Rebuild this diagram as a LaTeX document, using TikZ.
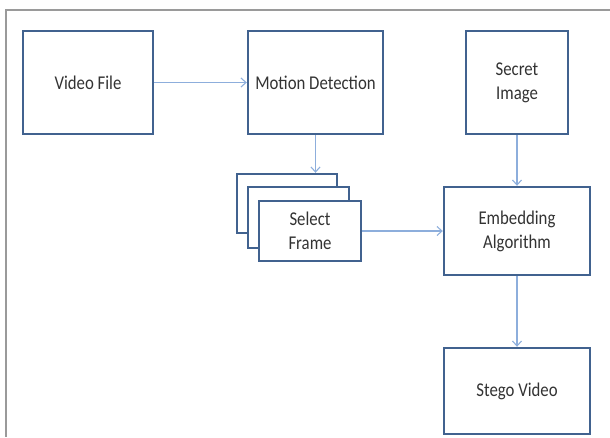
\documentclass[tikz,border=0pt]{standalone}
\usepackage{fontspec}
\setmainfont{Carlito}[FakeStretch=0.86]
\usetikzlibrary{arrows.meta}
\definecolor{boxline}{HTML}{41628F}
\definecolor{arrowc}{HTML}{8DAEDC}
\definecolor{txt}{HTML}{333333}
\definecolor{frameg}{HTML}{9A9A9A}
\begin{document}
\begin{tikzpicture}[x=1pt,y=-1pt,
  blk/.style={draw=boxline, line width=2.4pt, fill=white, rectangle, align=center,
    text=txt, font=\fontsize{19.5}{24}\selectfont, inner sep=0pt},
  conn/.style={draw=arrowc, line width=1.4pt, -{Straight Barb[length=5pt,width=9pt,line width=1.1pt]}}]
\useasboundingbox (0,0) rectangle (610,437);
\draw[frameg, line width=1.5pt] (610,10) -- (6,10) -- (6,437);
\node[blk, minimum width=130pt, minimum height=103pt] (vf) at (88,82.5) {Video File};
\node[blk, minimum width=135pt, minimum height=103pt] (md) at (315.5,82.5) {Motion Detection};
\node[blk, minimum width=102pt, minimum height=103pt] (si) at (517,82.5) {Secret\\Image};
\node[blk, minimum width=100pt, minimum height=59pt] (fa) at (287,203.5) {};
\node[blk, minimum width=101pt, minimum height=61pt] (fb) at (298.5,217.5) {};
\node[blk, minimum width=102pt, minimum height=60pt] (sf) at (310,231) {Select\\Frame};
\node[blk, minimum width=146pt, minimum height=88pt] (ea) at (517,231) {Embedding\\Algorithm};
\node[blk, minimum width=146pt, minimum height=86pt] (sv) at (517,391) {Stego Video};
\draw[conn] (vf.east) -- (md.west);
\draw[conn] (md.south) -- (md.south |- fa.north);
\draw[conn] (si.south) -- (ea.north);
\draw[conn] (sf.east) -- (sf.east -| ea.west);
\draw[conn] (ea.south) -- (sv.north);
\end{tikzpicture}
\end{document}
